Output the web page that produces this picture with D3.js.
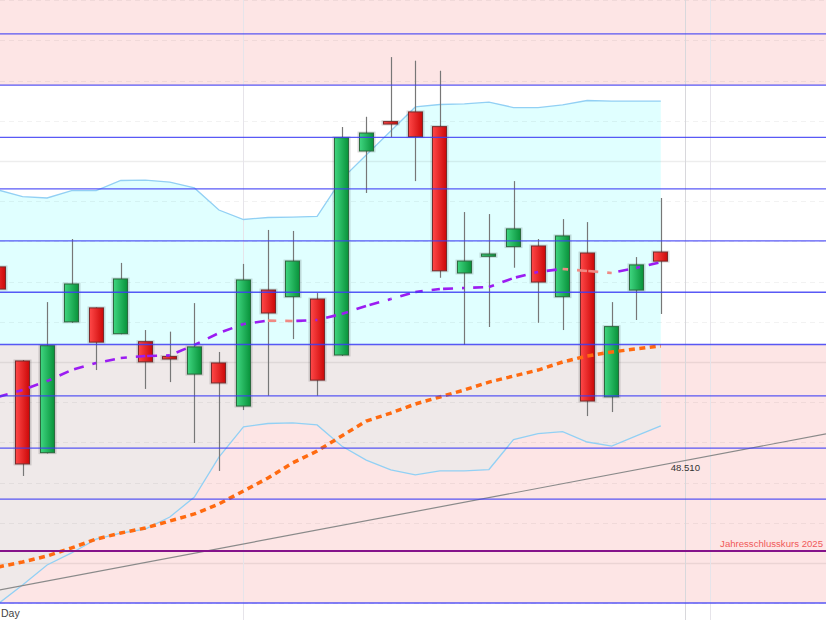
<!DOCTYPE html>
<html><head><meta charset="utf-8">
<script src="https://cdn.jsdelivr.net/npm/d3@7"></script>
<style>html,body{margin:0;padding:0;background:#fff;overflow:hidden}svg{display:block}</style>
</head><body>
<script>
const W = 826, H = 620;

// ---- data (daily candles, index = trading day) ----
const opens  = [49473,49005,48549,49200,49269,49141,49101,49027,48940,48995,48781,49358,49325,49313,49035,50050,50196,50244,50171,49443,49526,49574,49577,49325,49542,48827,49358,49547];
const highs  = [49520,49010,49298,49612,49272,49493,49159,49151,49293,49050,49488,49657,49652,49343,50169,50220,50517,50499,50449,49746,49736,49900,49612,49711,49696,49298,49522,49816];
const lows   = [49330,48433,48545,49195,48960,49138,48866,48900,48597,48458,48761,48832,49114,48832,49030,49841,50119,49900,49419,49085,49174,49469,49195,49159,48731,48751,49209,49239];
const closes = [49363,48493,49081,49388,49099,49413,49001,49015,49075,48896,49408,49244,49502,48910,50116,50139,50184,50121,49454,49502,49537,49662,49398,49627,48806,49176,49483,49502];

const smaShort = [48826,48861,48905,48960,48995,49020,49030,49033,49085,49144,49189,49206,49204,49209,49239,49279,49313,49348,49363,49368,49373,49418,49448,49463,49453,49443,49468,49497];
const smaLong  = [47980,48005,48035,48075,48119,48149,48174,48209,48244,48294,48358,48423,48498,48557,48632,48706,48746,48791,48826,48861,48900,48930,48960,49000,49030,49050,49065,49080];
const bbUpper  = [49856,49823,49816,49853,49853,49903,49905,49895,49866,49756,49709,49719,49721,49724,49910,50030,50149,50269,50281,50284,50293,50266,50266,50279,50301,50298,50298,50298];
const bbLower  = [47796,47891,47990,48050,48119,48149,48169,48229,48328,48527,48677,48694,48697,48687,48582,48512,48463,48438,48458,48458,48465,48614,48644,48654,48602,48582,48632,48682];

const levels = [50632,50377,50118,49861,49603,49347,49087,48831,48572,48318,47801];
const yearClose = 48060;
const yearCloseLabel = "Jahresschlusskurs 2025";
const trendA = [0, 47864], trendB = [28, 48510];
const trendLabel = "48.510";
const zones = [[50377, 51200], [47801, 49087]];
const vLines = [10, 28, 29];
const axisLabel = "Day";

// ---- scales ----
const x = d3.scaleLinear().domain([0, 33.73]).range([-2, W]);
const y = d3.scaleLinear().domain([48000, 50000]).range([563, 161]);
const bodyW = x(0.611) - x(0);

const svg = d3.select("body").append("svg").attr("width", W).attr("height", H)
  .style("font-family", "Liberation Sans, Arial, sans-serif");

const defs = svg.append("defs");
const gG = defs.append("linearGradient").attr("id", "gUp");
gG.append("stop").attr("offset", "0%").attr("stop-color", "#3fd680");
gG.append("stop").attr("offset", "100%").attr("stop-color", "#08923a");
const gR = defs.append("linearGradient").attr("id", "gDn");
gR.append("stop").attr("offset", "0%").attr("stop-color", "#ff4848");
gR.append("stop").attr("offset", "100%").attr("stop-color", "#cc0808");
defs.append("clipPath").attr("id", "clipLow").append("rect")
  .attr("x", 0).attr("width", W).attr("y", y(zones[1][1])).attr("height", y(zones[1][0]) - y(zones[1][1]));
defs.append("clipPath").attr("id", "clipPlot").append("rect")
  .attr("x", 0).attr("y", 0).attr("width", W).attr("height", H);

const root = svg.append("g").attr("clip-path", "url(#clipPlot)");

root.append("rect").attr("width", W).attr("height", H).attr("fill", "#fff");

// pink zones
root.selectAll(".zone").data(zones).join("rect")
  .attr("x", 0).attr("width", W)
  .attr("y", d => y(d[1])).attr("height", d => y(d[0]) - y(d[1]))
  .attr("fill", "#fde5e5");

// Bollinger fill
const idx = d3.range(opens.length);
const area = d3.area().x(i => x(i)).y0(i => y(bbLower[i])).y1(i => y(bbUpper[i]));
root.append("path").attr("d", area(idx)).attr("fill", "#e0ffff");
root.append("path").attr("d", area(idx)).attr("fill", "#efe9e9").attr("clip-path", "url(#clipLow)");

// minor grid
const gridVals = d3.range(47800, 51001, 200);
root.selectAll(".grid").data(gridVals).join("line")
  .attr("x1", 0).attr("x2", W)
  .attr("y1", d => Math.round(y(d)) + 0.5).attr("y2", d => Math.round(y(d)) + 0.5)
  .attr("stroke", d => d % 1000 === 0 ? "rgba(0,0,0,0.07)" : "rgba(0,0,0,0.05)")
  .attr("stroke-width", d => d % 1000 === 0 ? 1.5 : 1)
  .attr("stroke-dasharray", d => d % 1000 === 0 ? null : "5,4");

// vertical grid
root.selectAll(".vgrid").data(vLines).join("line")
  .attr("x1", d => Math.round(x(d)) + 0.5).attr("x2", d => Math.round(x(d)) + 0.5)
  .attr("y1", 0).attr("y2", H)
  .attr("stroke", (d, i) => i === 1 ? "#d8d8dc" : "#e6e4ea").attr("stroke-width", 1);

// Bollinger lines
const line = arr => d3.line().x(i => x(i)).y(i => y(arr[i]));
[bbUpper, bbLower].forEach(arr => root.append("path").attr("d", line(arr)(idx))
  .attr("fill", "none").attr("stroke", "#92d0f4").attr("stroke-width", 1.3));

// trendline
const tSlope = (trendB[1] - trendA[1]) / (trendB[0] - trendA[0]);
const tVal = k => trendA[1] + tSlope * (k - trendA[0]);
const [k0, k1] = x.domain();
root.append("line").attr("x1", x(k0)).attr("y1", y(tVal(k0))).attr("x2", x(k1)).attr("y2", y(tVal(k1)))
  .attr("stroke", "#8a8a8a").attr("stroke-width", 1.2);

// candles
const cg = root.append("g");
cg.selectAll(".wick").data(idx).join("line")
  .attr("x1", i => Math.round(x(i)) + 0.5).attr("x2", i => Math.round(x(i)) + 0.5)
  .attr("y1", i => y(highs[i])).attr("y2", i => y(lows[i]))
  .attr("stroke", "#777").attr("stroke-width", 1.2);
cg.selectAll(".halo").data(idx).join("rect")
  .attr("x", i => Math.round(x(i) - bodyW / 2) - 0.5).attr("width", Math.round(bodyW) + 1)
  .attr("y", i => y(Math.max(opens[i], closes[i])) - 0.5)
  .attr("height", i => Math.max(2, y(Math.min(opens[i], closes[i])) - y(Math.max(opens[i], closes[i]))) + 1)
  .attr("fill", "none").attr("stroke", "rgba(0,0,0,0.15)").attr("stroke-width", 2);
cg.selectAll(".body").data(idx).join("rect")
  .attr("x", i => Math.round(x(i) - bodyW / 2) + 0.5).attr("width", Math.round(bodyW) - 1)
  .attr("y", i => y(Math.max(opens[i], closes[i])))
  .attr("height", i => Math.max(2, y(Math.min(opens[i], closes[i])) - y(Math.max(opens[i], closes[i]))))
  .attr("fill", i => closes[i] >= opens[i] ? "url(#gUp)" : "url(#gDn)")
  .attr("stroke", i => closes[i] >= opens[i] ? "#2c6a3e" : "#7a2a2a").attr("stroke-width", 1);

// long SMA (orange dotted)
root.append("path").attr("d", line(smaLong)(idx))
  .attr("fill", "none").attr("stroke", "#ff6a10").attr("stroke-width", 3.5)
  .attr("stroke-dasharray", "6,4.5");

// short SMA (purple dashed, salmon where falling)
let cum = 0;
for (let i = 0; i < idx.length - 1; i++) {
  const xa = x(i), ya = y(smaShort[i]), xb = x(i + 1), yb = y(smaShort[i + 1]);
  root.append("line").attr("x1", xa).attr("y1", ya).attr("x2", xb).attr("y2", yb)
    .attr("stroke", smaShort[i + 1] >= smaShort[i] ? "#9b1cf2" : "#f08a84")
    .attr("stroke-width", 2.6).attr("stroke-dasharray", "10,9")
    .attr("stroke-dashoffset", -cum);
  cum += Math.hypot(xb - xa, yb - ya);
}

// horizontal levels
root.selectAll(".lvl").data(levels).join("line")
  .attr("x1", 0).attr("x2", W)
  .attr("y1", d => y(d)).attr("y2", d => y(d))
  .attr("stroke", "rgba(60,60,245,0.85)").attr("stroke-width", 1.3);
root.append("line").attr("x1", 0).attr("x2", W).attr("y1", y(yearClose)).attr("y2", y(yearClose))
  .attr("stroke", "#85128a").attr("stroke-width", 2);

// texts
root.append("text").attr("x", W - 3).attr("y", y(yearClose) - 4).attr("text-anchor", "end")
  .attr("font-size", 9.6).attr("fill", "#f05a5a").text(yearCloseLabel);
root.append("text").attr("x", x(28)).attr("y", y(tVal(28)) + 10.5).attr("text-anchor", "middle")
  .attr("font-size", 9.6).attr("fill", "#333").text(trendLabel);
root.append("text").attr("x", 1).attr("y", 616.5)
  .attr("font-size", 10.5).attr("fill", "#444").text(axisLabel);
</script>
</body></html>
